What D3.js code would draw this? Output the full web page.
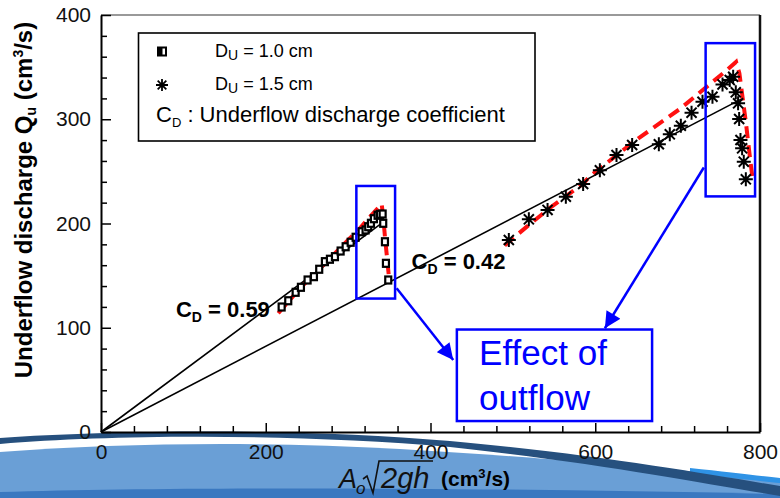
<!DOCTYPE html>
<html>
<head>
<meta charset="utf-8">
<script src="https://cdn.jsdelivr.net/npm/d3@7"></script>
<style>
  html, body { margin: 0; padding: 0; background: #fff; }
  svg { display: block; }
  text { font-family: "Liberation Sans", Arial, sans-serif; }
</style>
</head>
<body>
<svg id="chart" width="780" height="498"></svg>
<script>
// ---------------- DATA ----------------
const xMajorTicks = [0, 200, 400, 600, 800];
const yMajorTicks = [0, 100, 200, 300, 400];

// D_U = 1.0 cm (squares)
const d10X = [219.3, 227.3, 236.3, 242.7, 250.8, 258.5, 264.9, 271.8, 277.9, 284.0, 290.9, 297.0, 303.1, 309.1, 316.4, 321.2, 324.4, 327.7, 331.3, 335.8, 338.6, 341.9, 342.6, 344.7, 345.9, 348.7];
const d10Y = [119.9, 125.9, 134.0, 138.8, 145.8, 149.0, 156.1, 163.4, 165.7, 168.2, 173.6, 177.7, 182.0, 186.8, 192.1, 193.8, 196.9, 200.2, 204.6, 207.9, 208.8, 209.1, 200.2, 182.5, 161.8, 145.8];

// D_U = 1.5 cm (stars)
const d15X = [495.1, 519.4, 542.1, 564.3, 585.3, 605.6, 625.8, 644.8, 677.2, 690.5, 703.9, 716.9, 730.2, 742.3, 754.5, 763.3, 767.4, 770.6, 773.4, 774.7, 776.3, 778.3, 780.3, 782.8];
const d15Y = [184.2, 204.0, 213.0, 225.7, 237.9, 251.0, 265.7, 275.3, 276.0, 285.5, 293.8, 306.3, 316.8, 321.6, 333.4, 337.6, 340.8, 325.8, 315.3, 300.2, 280.1, 272.1, 259.3, 242.4];

// red dashed trend curves
const red10X = [215.2, 241.5, 263.7, 286.0, 300.1, 314.3, 326.5, 340.7, 342.6, 344.7, 347.5, 349.9];
const red10Y = [113.9, 137.8, 155.4, 172.9, 184.2, 195.4, 206.5, 218.7, 206.5, 187.3, 165.0, 145.8];
const red15X = [490, 517, 545, 585, 593, 646, 678, 703, 755, 771, 775, 783, 788, 791];
const red15Y = [179, 197, 215, 238, 245, 278, 296, 310, 344, 355, 344, 296, 262, 243];

// discharge coefficient lines (from origin)
const cdValues = ["0.59", "0.42"];
const cdLineEndX = [347, 779];
const cdLineEndY = [204, 320];

// annotation boxes in data units [x0, x1, y0, y1]
const outflowBoxes = [[310, 357, 128, 236], [734, 794, 226, 373]];
const effectBox = [432, 669, 10.5, 98.3];
const effectLines = ["Effect of", "outflow"];
const arrowsFrom = [[358.9, 137.8], [731.8, 253.7]];
const arrowsTo = [[427.6, 69.1], [611.7, 99.5]];

const legendLabels = ["1.0 cm", "1.5 cm"];

// ---------------- LAYOUT ----------------
const svg = d3.select("#chart");
const L = 101, R = 760, T = 15, B = 432;
const x = d3.scaleLinear().domain([0, 800]).range([L, R]);
const y = d3.scaleLinear().domain([0, 400]).range([B, T]);

// ---------- background swoosh ----------
const bg = svg.append("g");
bg.append("path")
  .attr("d", "M0,452 C120,443 260,441 400,449 C540,457 680,470 780,480 L780,498 L0,498 Z")
  .attr("fill", "#6a9fd6");
bg.append("path")
  .attr("d", "M0,492 C200,486 500,488 780,494 L780,498 L0,498 Z")
  .attr("fill", "#3a78c0");
bg.append("path")
  .attr("d", "M690,468 C730,472 760,476 780,478 L780,483 C760,481 730,478 690,473 Z")
  .attr("fill", "#2f93e6");
bg.append("path")
  .attr("d", "M0,438 C120,430 300,428 450,441 C600,455 700,473 780,486 L780,496 C700,483 600,463 450,447 C300,434 120,434 0,444 Z")
  .attr("fill", "#26507e");

// ---------- plot frame ----------
svg.append("line").attr("x1", L).attr("x2", R).attr("y1", T).attr("y2", T)
  .attr("stroke", "#777").attr("stroke-width", 1.5);
svg.append("line").attr("x1", R).attr("x2", R).attr("y1", T).attr("y2", B)
  .attr("stroke", "#111").attr("stroke-width", 2.5);

// ---------- axes ----------
const yMinor = d3.range(0, 401, 20).filter(v => v % 100 !== 0);
const xMinor = d3.range(0, 801, 40).filter(v => v % 200 !== 0);

const gy = svg.append("g").attr("transform", `translate(${L},0)`);
gy.call(d3.axisLeft(y).tickValues(yMajorTicks).tickSizeInner(-10).tickSizeOuter(0).tickPadding(10));
const gyMinor = svg.append("g").attr("transform", `translate(${L},0)`);
gyMinor.call(d3.axisLeft(y).tickValues(yMinor).tickSizeInner(-6).tickSizeOuter(0).tickFormat(""));
gyMinor.select(".domain").remove();

const gx = svg.append("g").attr("transform", `translate(0,${B})`);
gx.call(d3.axisBottom(x).tickValues(xMajorTicks).tickSizeInner(-9).tickSizeOuter(0).tickPadding(12));
const gxMinor = svg.append("g").attr("transform", `translate(0,${B})`);
gxMinor.call(d3.axisBottom(x).tickValues(xMinor).tickSizeInner(-6).tickSizeOuter(0).tickFormat(""));
gxMinor.select(".domain").remove();

svg.selectAll(".domain").attr("stroke", "#000").attr("stroke-width", 2);
svg.selectAll(".tick line").attr("stroke", "#000").attr("stroke-width", 1.5);
svg.selectAll(".tick text").attr("font-size", 21).attr("fill", "#111")
  .attr("font-family", "'Liberation Sans', Arial, sans-serif");

// ---------- CD lines ----------
cdValues.forEach((v, i) => {
  svg.append("line")
    .attr("x1", x(0)).attr("y1", y(0))
    .attr("x2", x(cdLineEndX[i])).attr("y2", y(cdLineEndY[i]))
    .attr("stroke", "#000").attr("stroke-width", 1.6);
});

// ---------- red dashed curves ----------
const lineGen = d3.line().x(d => x(d[0])).y(d => y(d[1]));
[[red10X, red10Y], [red15X, red15Y]].forEach(([xs, ys]) => {
  svg.append("path")
    .datum(xs.map((v, i) => [v, ys[i]]))
    .attr("d", lineGen)
    .attr("fill", "none").attr("stroke", "#ff1010")
    .attr("stroke-width", 4).attr("stroke-dasharray", "12,7");
});

// ---------- markers ----------
function squareMarker(g, cx, cy) {
  g.append("rect").attr("x", cx - 3).attr("y", cy - 3.5).attr("width", 6).attr("height", 7)
    .attr("fill", "#fff").attr("stroke", "#000").attr("stroke-width", 2.2);
}
function starMarker(g, cx, cy, r, w) {
  const a = r * 0.72;
  const p = `M${cx - r},${cy}L${cx + r},${cy}M${cx},${cy - r}L${cx},${cy + r}` +
            `M${cx - a},${cy - a}L${cx + a},${cy + a}M${cx - a},${cy + a}L${cx + a},${cy - a}`;
  g.append("path").attr("d", p).attr("stroke", "#000").attr("stroke-width", w).attr("fill", "none");
}
const mk = svg.append("g");
d10X.forEach((v, i) => squareMarker(mk, x(v), y(d10Y[i])));
d15X.forEach((v, i) => starMarker(mk, x(v), y(d15Y[i]), 7, 2));

// ---------- CD labels ----------
function cdLabel(tx, ty, val, anchor) {
  const t = svg.append("text").attr("x", tx).attr("y", ty)
    .attr("font-size", 22).attr("font-weight", "bold").attr("fill", "#000")
    .attr("text-anchor", anchor);
  t.append("tspan").text("C");
  t.append("tspan").attr("font-size", 14).attr("dy", 5).text("D");
  t.append("tspan").attr("dy", -5).text(" = " + val);
}
cdLabel(x(205), y(110.3), cdValues[0], "end");
cdLabel(x(377), y(156), cdValues[1], "start");

// ---------- outflow boxes / arrows ----------
const blue = "#0000ff";
outflowBoxes.forEach(b => {
  svg.append("rect").attr("x", x(b[0])).attr("y", y(b[3]))
    .attr("width", x(b[1]) - x(b[0])).attr("height", y(b[2]) - y(b[3]))
    .attr("fill", "none").attr("stroke", blue).attr("stroke-width", 2.5);
});
svg.append("rect").attr("x", x(effectBox[0])).attr("y", y(effectBox[3]))
  .attr("width", x(effectBox[1]) - x(effectBox[0])).attr("height", y(effectBox[2]) - y(effectBox[3]))
  .attr("fill", "#fff").attr("stroke", blue).attr("stroke-width", 2.5);
effectLines.forEach((s, i) => {
  svg.append("text").attr("x", x(459)).attr("y", y(i === 0 ? 64.3 : 21.1))
    .attr("font-size", 35).attr("fill", blue).text(s);
});

const defs = svg.append("defs");
defs.append("marker").attr("id", "ah").attr("viewBox", "0 0 10 10")
  .attr("refX", 10).attr("refY", 5).attr("markerWidth", 7).attr("markerHeight", 6.5)
  .attr("markerUnits", "strokeWidth").attr("orient", "auto")
  .append("path").attr("d", "M0,0 L10,5 L0,10 Z").attr("fill", blue);
arrowsFrom.forEach((f, i) => {
  svg.append("line").attr("x1", x(f[0])).attr("y1", y(f[1]))
    .attr("x2", x(arrowsTo[i][0])).attr("y2", y(arrowsTo[i][1]))
    .attr("stroke", blue).attr("stroke-width", 2.5).attr("marker-end", "url(#ah)");
});

// ---------- legend ----------
const lg = svg.append("g");
lg.append("rect").attr("x", 138.5).attr("y", 33).attr("width", 396.5).attr("height", 108)
  .attr("fill", "#fff").attr("stroke", "#000").attr("stroke-width", 1.6);
// square legend marker (half filled)
lg.append("rect").attr("x", 158).attr("y", 47.5).attr("width", 8).attr("height", 8)
  .attr("fill", "#fff").attr("stroke", "#000").attr("stroke-width", 2);
lg.append("rect").attr("x", 158).attr("y", 47.5).attr("width", 4.5).attr("height", 8).attr("fill", "#000");
starMarker(lg, 162, 85, 6, 1.8);
legendLabels.forEach((s, i) => {
  const t = lg.append("text").attr("x", 215).attr("y", 56.5 + i * 33.5)
    .attr("font-size", 18).attr("fill", "#000");
  t.append("tspan").text("D");
  t.append("tspan").attr("font-size", 14).attr("dy", 3).text("U");
  t.append("tspan").attr("dy", -3).text(" = " + s);
});
const t3 = lg.append("text").attr("x", 156).attr("y", 122).attr("font-size", 22).attr("fill", "#000");
t3.append("tspan").text("C");
t3.append("tspan").attr("font-size", 13).attr("dy", 5).text("D");
t3.append("tspan").attr("dy", -5).text(" : Underflow discharge coefficient");

// ---------- axis titles ----------
const yt = svg.append("text")
  .attr("transform", "translate(32,200) rotate(-90)")
  .attr("text-anchor", "middle").attr("font-size", 24).attr("font-weight", "bold").attr("fill", "#000");
yt.append("tspan").text("Underflow discharge Q");
yt.append("tspan").attr("font-size", 14).attr("dy", 4).text("u");
yt.append("tspan").attr("dy", -4).text(" (cm");
yt.append("tspan").attr("font-size", 14).attr("dy", -9).text("3");
yt.append("tspan").attr("dy", 9).text("/s)");

const xt = svg.append("g");
xt.append("text").attr("x", 339).attr("y", 488)
  .attr("font-family", "'Liberation Serif', 'Times New Roman', serif").attr("font-style", "italic")
  .attr("font-size", 27).attr("fill", "#111").text("A");
xt.append("text").attr("x", 356).attr("y", 494)
  .attr("font-family", "'Liberation Serif', 'Times New Roman', serif").attr("font-style", "italic")
  .attr("font-size", 17).attr("fill", "#111").text("o");
xt.append("path").attr("d", "M363,479 L367,476 L373,493 L379,461 L433,461")
  .attr("fill", "none").attr("stroke", "#111").attr("stroke-width", 1.6);
xt.append("text").attr("x", 381).attr("y", 488)
  .attr("font-family", "'Liberation Serif', 'Times New Roman', serif").attr("font-style", "italic")
  .attr("font-size", 29).attr("fill", "#111").text("2gh");
const xu = xt.append("text").attr("x", 441).attr("y", 486)
  .attr("font-size", 21).attr("font-weight", "bold").attr("fill", "#000");
xu.append("tspan").text("(cm");
xu.append("tspan").attr("font-size", 13).attr("dy", -8).text("3");
xu.append("tspan").attr("dy", 8).text("/s)");
</script>
</body>
</html>
